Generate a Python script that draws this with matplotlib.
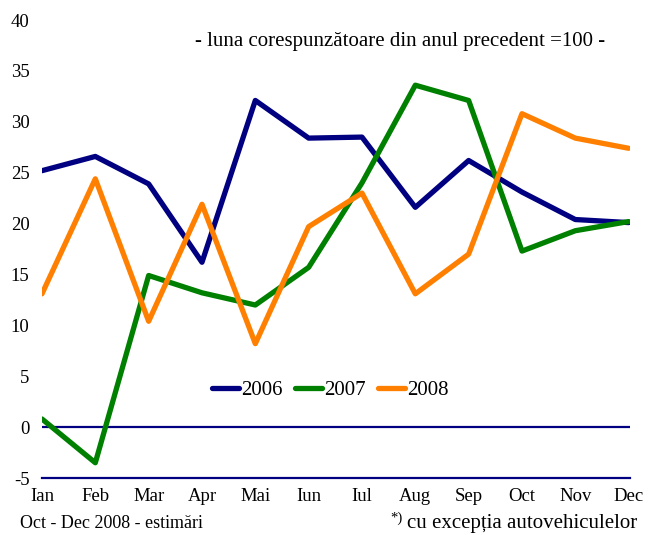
import matplotlib.pyplot as plt
import numpy as np

plt.rcParams['font.family'] = ['Liberation Serif', 'DejaVu Serif']
plt.rcParams['axes.unicode_minus'] = False

months = ['Ian', 'Feb', 'Mar', 'Apr', 'Mai', 'Iun', 'Iul', 'Aug', 'Sep', 'Oct', 'Nov', 'Dec']
y2006 = [25.2, 26.6, 23.9, 16.2, 32.1, 28.4, 28.5, 21.6, 26.2, 23.1, 20.4, 20.1]
y2007 = [0.8, -3.5, 14.9, 13.2, 12.0, 15.7, 24.0, 33.6, 32.1, 17.3, 19.3, 20.2]
y2008 = [13.1, 24.4, 10.4, 21.9, 8.2, 19.7, 23.0, 13.1, 17.0, 30.8, 28.4, 27.4]

x = np.arange(len(months))

fig = plt.figure(figsize=(6.5, 5.35), dpi=100)
ax = fig.add_axes([0.0646, 0.1065, 0.905, 0.856])

ax.axhline(0, color='#000080', lw=1.6, zorder=1)
ax.axhline(-5, color='#000080', lw=1.6, zorder=1, clip_on=False)

ax.plot(x, y2006, color='#000080', lw=3.8, label='2006', solid_capstyle='round')
ax.plot(x, y2007, color='#008000', lw=3.8, label='2007', solid_capstyle='round')
ax.plot(x, y2008, color='#ff8000', lw=3.8, label='2008', solid_capstyle='round')

ax.set_xlim(0, 11.03)
ax.set_ylim(-5, 40)
ax.set_yticks(np.arange(-5, 41, 5))
ax.set_xticks(x)
ax.set_xticklabels(months)
ax.tick_params(length=0, labelsize=13.5, pad=7)
ax.tick_params(axis='y', pad=9)
for s in ax.spines.values():
    s.set_visible(False)

ax.legend(loc='center', ncol=3, frameon=False, fontsize=15, handlelength=1.3,
          handletextpad=0.1, columnspacing=0.6)
ax.legend_.set_bbox_to_anchor((0.508, 0.27), transform=fig.transFigure)

fig.text(0.615, 0.922, '- luna corespunzătoare din anul precedent =100 -', fontsize=15,
         ha='center', va='center')
fig.text(0.031, 0.022, 'Oct - Dec 2008 - estimări', fontsize=13, ha='left', va='center')
fig.text(0.98, 0.022, 'cu excepția autovehiculelor', fontsize=15, ha='right', va='center')
fig.text(0.601, 0.032, '*)', fontsize=10.5, ha='left', va='center')

fig.savefig('out.png', dpi=100)
